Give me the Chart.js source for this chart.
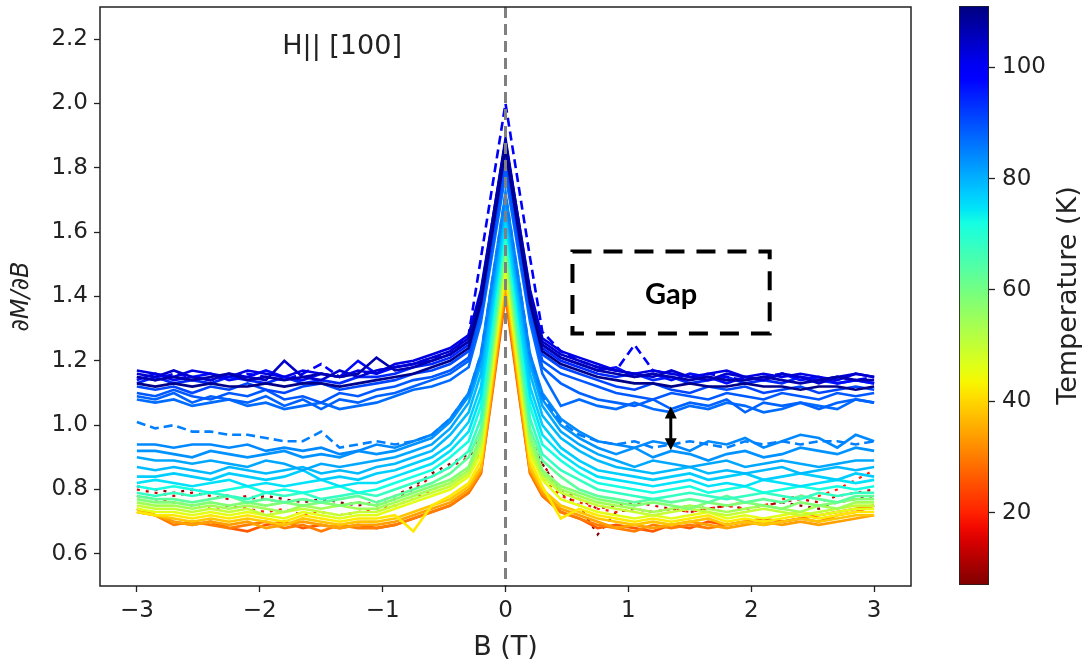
<!DOCTYPE html>
<html>
<head>
<meta charset="utf-8">
<script src="https://cdn.jsdelivr.net/npm/chart.js@4.4.1/dist/chart.umd.min.js"></script>
<style>
  html, body { margin: 0; padding: 0; background: #fff; }
  #wrap { position: relative; width: 1091px; height: 664px; }
  #main { position: absolute; left: 0; top: 0; }
  #cbar { position: absolute; left: 935px; top: 0; }
</style>
</head>
<body>
<div id="wrap">
  <canvas id="main" width="935" height="664"></canvas>
  <canvas id="cbar" width="156" height="664"></canvas>
</div>
<script>
// field grid (T), shared by every curve
const fieldB = [-3.0,-2.85,-2.7,-2.55,-2.4,-2.25,-2.1,-1.95,-1.8,-1.65,-1.5,-1.35,-1.2,-1.05,-0.9,-0.75,-0.6,
  -0.45,-0.3,-0.2,-0.1,0,0.1,0.2,0.3,0.45,
  0.6,0.75,0.9,1.05,1.2,1.35,1.5,1.65,1.8,1.95,2.1,2.25,2.4,2.55,2.7,2.85,3.0];

// dM/dB curves, one per temperature (K)
const dmdb110K = [1.13,1.12,1.13,1.12,1.13,1.12,1.12,1.13,1.12,1.13,1.13,1.12,1.13,1.14,1.15,1.16,1.18, 1.20,1.24,1.38,1.62,1.86,1.62,1.38,1.23,1.19, 1.17,1.15,1.14,1.13,1.13,1.12,1.13,1.12,1.12,1.13,1.12,1.12,1.11,1.12,1.12,1.11,1.12];
const dmdb107K = [1.15,1.14,1.15,1.14,1.15,1.16,1.14,1.15,1.14,1.15,1.16,1.15,1.16,1.21,1.17,1.18,1.20, 1.22,1.26,1.40,1.64,1.88,1.64,1.40,1.25,1.21, 1.19,1.17,1.16,1.15,1.16,1.15,1.14,1.15,1.14,1.14,1.15,1.14,1.13,1.14,1.15,1.14,1.14];
const dmdb104K = [1.16,1.15,1.17,1.15,1.14,1.16,1.15,1.14,1.20,1.15,1.14,1.17,1.15,1.17,1.18,1.19,1.21, 1.23,1.27,1.41,1.65,1.89,1.65,1.41,1.26,1.22, 1.20,1.18,1.17,1.16,1.15,1.17,1.15,1.14,1.16,1.15,1.14,1.16,1.15,1.13,1.15,1.16,1.15];
const dmdb102K = [1.17,1.16,1.15,1.17,1.16,1.15,1.17,1.16,1.15,1.17,1.16,1.15,1.17,1.16,1.19,1.20,1.22, 1.24,1.28,1.42,1.65,1.88,1.65,1.42,1.27,1.23, 1.21,1.19,1.17,1.16,1.17,1.16,1.15,1.16,1.17,1.15,1.16,1.15,1.16,1.15,1.14,1.16,1.15];
const dmdb100K = [1.15,1.14,1.16,1.15,1.14,1.15,1.16,1.15,1.14,1.16,1.19,1.15,1.16,1.17,1.18,1.19,1.21, 1.22,1.28,1.52,1.76,2.00,1.76,1.52,1.29,1.23, 1.20,1.18,1.17,1.25,1.17,1.16,1.15,1.16,1.15,1.14,1.15,1.16,1.15,1.14,1.15,1.14,1.15];
const dmdb97K  = [1.14,1.16,1.14,1.15,1.16,1.14,1.15,1.17,1.15,1.14,1.16,1.15,1.20,1.16,1.18,1.19,1.20, 1.22,1.26,1.40,1.63,1.87,1.63,1.40,1.25,1.21, 1.19,1.17,1.18,1.15,1.16,1.14,1.16,1.15,1.13,1.15,1.14,1.16,1.14,1.15,1.13,1.14,1.13];
const dmdb94K  = [1.13,1.15,1.13,1.14,1.13,1.15,1.14,1.13,1.15,1.13,1.14,1.13,1.15,1.15,1.16,1.18,1.19, 1.21,1.25,1.39,1.62,1.86,1.62,1.39,1.24,1.20, 1.18,1.16,1.15,1.16,1.14,1.15,1.13,1.14,1.15,1.13,1.14,1.13,1.15,1.14,1.13,1.14,1.13];
const dmdb91K  = [1.12,1.11,1.12,1.10,1.12,1.11,1.13,1.11,1.10,1.12,1.13,1.11,1.12,1.13,1.14,1.16,1.17, 1.19,1.23,1.37,1.60,1.84,1.60,1.37,1.22,1.18, 1.16,1.14,1.12,1.11,1.13,1.11,1.10,1.12,1.11,1.12,1.10,1.11,1.12,1.10,1.11,1.12,1.11];
const dmdb89K  = [1.10,1.09,1.11,1.09,1.08,1.10,1.09,1.11,1.08,1.09,1.07,1.10,1.09,1.11,1.12,1.14,1.15, 1.17,1.21,1.35,1.58,1.82,1.58,1.35,1.20,1.16, 1.14,1.12,1.10,1.09,1.08,1.10,1.09,1.08,1.10,1.09,1.08,1.10,1.09,1.08,1.10,1.09,1.10];
const dmdb88K  = [1.09,1.08,1.10,1.07,1.09,1.08,1.07,1.09,1.06,1.08,1.05,1.08,1.07,1.09,1.10,1.12,1.14, 1.16,1.20,1.34,1.57,1.80,1.57,1.34,1.18,1.13, 1.10,1.08,1.07,1.06,1.08,1.05,1.07,1.06,1.08,1.04,1.07,1.06,1.07,1.05,1.07,1.08,1.07];
const dmdb87K  = [1.08,1.07,1.08,1.06,1.07,1.08,1.06,1.07,1.05,1.06,1.07,1.05,1.06,1.07,1.09,1.11,1.12, 1.14,1.18,1.32,1.55,1.78,1.55,1.32,1.16,1.06, 1.08,1.06,1.05,1.07,1.05,1.04,1.06,1.05,1.07,1.06,1.04,1.05,1.07,1.06,1.05,1.08,1.07];
const dmdb85K  = [1.01,0.99,1.00,0.98,0.98,0.97,0.97,0.96,0.95,0.95,0.98,0.93,0.94,0.95,0.94,0.95,0.97, 1.02,1.10,1.22,1.47,1.72,1.47,1.22,1.09,1.01, 0.97,0.95,0.94,0.95,0.93,0.94,0.95,0.94,0.93,0.95,0.94,0.95,0.94,0.95,0.95,0.94,0.95];
const dmdb84K  = [0.94,0.94,0.93,0.94,0.94,0.93,0.94,0.92,0.93,0.92,0.93,0.91,0.92,0.94,0.93,0.95,0.97, 1.02,1.10,1.22,1.47,1.72,1.47,1.22,1.10,1.02, 0.98,0.95,0.94,0.93,0.95,0.94,0.92,0.95,0.94,0.96,0.93,0.95,0.97,0.96,0.93,0.97,0.95];
const dmdb83K  = [0.92,0.92,0.91,0.90,0.92,0.91,0.90,0.91,0.92,0.90,0.91,0.90,0.92,0.91,0.92,0.94,0.96, 1.01,1.09,1.21,1.46,1.71,1.46,1.21,1.08,1.00, 0.96,0.93,0.91,0.93,0.90,0.92,0.91,0.89,0.91,0.92,0.90,0.91,0.93,0.92,0.91,0.93,0.92];
const dmdb81K  = [0.90,0.89,0.89,0.88,0.89,0.88,0.87,0.89,0.88,0.86,0.88,0.87,0.88,0.89,0.90,0.92,0.94, 0.99,1.07,1.19,1.44,1.70,1.44,1.19,1.06,0.98, 0.94,0.91,0.89,0.87,0.89,0.88,0.87,0.88,0.89,0.87,0.88,0.89,0.88,0.87,0.88,0.89,0.89];
const dmdb79K  = [0.87,0.86,0.87,0.86,0.85,0.87,0.86,0.85,0.86,0.87,0.85,0.86,0.85,0.87,0.88,0.90,0.92, 0.97,1.04,1.16,1.42,1.68,1.42,1.16,1.03,0.96, 0.92,0.89,0.87,0.86,0.85,0.86,0.87,0.85,0.86,0.85,0.86,0.87,0.85,0.86,0.87,0.86,0.87];
const dmdb77K  = [0.84,0.84,0.85,0.84,0.83,0.85,0.84,0.83,0.84,0.86,0.83,0.84,0.83,0.85,0.86,0.88,0.90, 0.94,1.01,1.12,1.40,1.66,1.40,1.12,1.00,0.93, 0.89,0.86,0.85,0.84,0.83,0.84,0.85,0.83,0.84,0.85,0.83,0.84,0.85,0.84,0.83,0.85,0.84];
const dmdb75K  = [0.82,0.83,0.82,0.81,0.82,0.83,0.81,0.82,0.81,0.82,0.83,0.81,0.82,0.82,0.84,0.86,0.88, 0.92,0.98,1.09,1.37,1.64,1.37,1.09,0.97,0.91, 0.87,0.84,0.83,0.82,0.81,0.82,0.83,0.81,0.82,0.81,0.83,0.82,0.81,0.82,0.83,0.82,0.83];
const dmdb72K  = [0.81,0.80,0.81,0.80,0.79,0.80,0.81,0.79,0.80,0.79,0.80,0.81,0.79,0.80,0.82,0.84,0.86, 0.90,0.95,1.06,1.34,1.62,1.34,1.06,0.94,0.89, 0.85,0.82,0.81,0.80,0.79,0.80,0.81,0.79,0.80,0.81,0.79,0.80,0.81,0.80,0.81,0.80,0.81];
const dmdb68K  = [0.79,0.78,0.79,0.78,0.79,0.78,0.77,0.79,0.78,0.79,0.77,0.78,0.79,0.78,0.80,0.82,0.84, 0.87,0.92,1.02,1.31,1.60,1.31,1.02,0.91,0.86, 0.83,0.80,0.79,0.78,0.77,0.78,0.79,0.78,0.77,0.78,0.79,0.78,0.77,0.79,0.78,0.79,0.79];
const dmdb63K  = [0.78,0.77,0.77,0.76,0.77,0.78,0.76,0.77,0.76,0.77,0.76,0.77,0.78,0.76,0.78,0.80,0.82, 0.85,0.90,0.99,1.28,1.58,1.28,0.99,0.89,0.84, 0.80,0.78,0.77,0.76,0.77,0.76,0.77,0.76,0.78,0.76,0.77,0.76,0.78,0.77,0.76,0.78,0.78];
const dmdb58K  = [0.77,0.76,0.76,0.75,0.76,0.75,0.76,0.75,0.76,0.75,0.76,0.75,0.76,0.75,0.77,0.79,0.81, 0.83,0.87,0.97,1.26,1.56,1.26,0.97,0.86,0.81, 0.79,0.77,0.76,0.75,0.76,0.75,0.74,0.76,0.75,0.76,0.75,0.74,0.76,0.75,0.76,0.77,0.77];
const dmdb54K  = [0.76,0.75,0.75,0.74,0.75,0.74,0.75,0.74,0.73,0.75,0.74,0.75,0.74,0.74,0.76,0.78,0.80, 0.82,0.86,0.95,1.24,1.54,1.24,0.95,0.85,0.80, 0.78,0.76,0.75,0.74,0.73,0.74,0.75,0.74,0.73,0.74,0.75,0.74,0.73,0.75,0.74,0.76,0.76];
const dmdb50K  = [0.75,0.74,0.74,0.73,0.74,0.73,0.74,0.72,0.73,0.74,0.73,0.72,0.73,0.73,0.75,0.77,0.79, 0.81,0.85,0.93,1.22,1.52,1.22,0.93,0.84,0.79, 0.77,0.75,0.74,0.73,0.72,0.73,0.74,0.73,0.72,0.73,0.74,0.73,0.72,0.73,0.74,0.75,0.75];
const dmdb46K  = [0.74,0.73,0.73,0.72,0.73,0.72,0.73,0.72,0.71,0.73,0.72,0.71,0.72,0.72,0.74,0.76,0.78, 0.80,0.84,0.91,1.20,1.50,1.20,0.91,0.83,0.77, 0.75,0.73,0.72,0.71,0.72,0.71,0.72,0.73,0.71,0.72,0.71,0.72,0.73,0.72,0.73,0.74,0.74];
const dmdb42K  = [0.73,0.72,0.72,0.71,0.72,0.71,0.72,0.71,0.70,0.72,0.71,0.70,0.71,0.71,0.72,0.67,0.75, 0.78,0.82,0.89,1.18,1.48,1.18,0.89,0.81,0.71, 0.74,0.72,0.71,0.70,0.71,0.70,0.71,0.72,0.70,0.71,0.70,0.71,0.72,0.71,0.72,0.73,0.73];
const dmdb38K  = [0.73,0.72,0.71,0.70,0.71,0.70,0.71,0.70,0.69,0.71,0.70,0.69,0.70,0.70,0.71,0.73,0.75, 0.77,0.81,0.87,1.16,1.46,1.16,0.87,0.80,0.75, 0.73,0.71,0.70,0.69,0.70,0.69,0.70,0.71,0.69,0.70,0.69,0.70,0.71,0.70,0.71,0.72,0.72];
const dmdb34K  = [0.74,0.72,0.70,0.69,0.70,0.69,0.70,0.68,0.69,0.70,0.69,0.68,0.69,0.69,0.70,0.72,0.74, 0.76,0.80,0.86,1.14,1.44,1.14,0.86,0.79,0.74, 0.72,0.70,0.68,0.69,0.68,0.69,0.70,0.69,0.68,0.69,0.70,0.69,0.70,0.69,0.70,0.71,0.72];
const dmdb30K  = [0.74,0.72,0.69,0.70,0.69,0.68,0.69,0.70,0.68,0.69,0.67,0.69,0.68,0.68,0.69,0.71,0.73, 0.75,0.79,0.85,1.13,1.42,1.13,0.85,0.78,0.73, 0.71,0.69,0.68,0.67,0.69,0.68,0.69,0.68,0.69,0.70,0.69,0.70,0.71,0.70,0.72,0.73,0.75];
const dmdb26K  = [0.73,0.72,0.70,0.69,0.70,0.68,0.67,0.69,0.70,0.68,0.69,0.68,0.69,0.68,0.69,0.71,0.73, 0.75,0.79,0.85,1.12,1.40,1.12,0.85,0.78,0.73, 0.71,0.68,0.69,0.68,0.67,0.69,0.68,0.70,0.69,0.70,0.71,0.70,0.71,0.72,0.73,0.74,0.75];
const dmdb20K  = [0.78,0.77,0.76,0.75,0.74,0.75,0.74,0.73,0.74,0.72,0.73,0.72,0.73,0.74,0.75,0.77,0.80, 0.82,0.86,0.92,1.16,1.40,1.16,0.92,0.84,0.78, 0.76,0.74,0.73,0.74,0.73,0.74,0.73,0.74,0.75,0.74,0.75,0.77,0.78,0.78,0.80,0.83,0.86];
const dmdb14K  = [0.80,0.79,0.78,0.79,0.78,0.77,0.78,0.77,0.76,0.77,0.76,0.75,0.76,0.75,0.77,0.80,0.84, 0.87,0.90,0.95,1.17,1.40,1.17,0.95,0.88,0.80, 0.77,0.74,0.75,0.76,0.75,0.74,0.73,0.74,0.75,0.76,0.75,0.76,0.77,0.76,0.78,0.79,0.80];
const dmdb8K   = [0.81,0.80,0.79,0.80,0.79,0.78,0.77,0.78,0.77,0.76,0.77,0.76,0.75,0.76,0.78,0.81,0.85, 0.88,0.91,0.96,1.18,1.40,1.18,0.96,0.88,0.79, 0.75,0.66,0.73,0.74,0.73,0.74,0.75,0.74,0.75,0.74,0.75,0.76,0.75,0.74,0.76,0.77,0.78];

const temps = [110,107,104,102,100,97,94,91,89,88,87,85,84,83,81,79,77,75,72,68,63,58,54,50,46,42,38,34,30,26,20,14,8];
const curves = [dmdb110K,dmdb107K,dmdb104K,dmdb102K,dmdb100K,dmdb97K,dmdb94K,dmdb91K,dmdb89K,dmdb88K,dmdb87K,
  dmdb85K,dmdb84K,dmdb83K,dmdb81K,dmdb79K,dmdb77K,dmdb75K,dmdb72K,dmdb68K,dmdb63K,dmdb58K,dmdb54K,
  dmdb50K,dmdb46K,dmdb42K,dmdb38K,dmdb34K,dmdb30K,dmdb26K,dmdb20K,dmdb14K,dmdb8K];
const dashedTemps = [100, 85];
const dottedTemps = [20, 14, 8];

const xTicks = [-3, -2, -1, 0, 1, 2, 3];
const yTicks = [0.6, 0.8, 1.0, 1.2, 1.4, 1.6, 1.8, 2.0, 2.2];
const tempTicks = [20, 40, 60, 80, 100];
const tempMin = 7, tempMax = 111;

const gapBox = { x0: 0.545, x1: 2.15, y0: 1.285, y1: 1.54, label: "Gap" };
const gapArrow = { x: 1.345, top: 1.058, bottom: 0.922 };
const fieldLabel = { x: -1.33, y: 2.175, text: "H|| [100]" };

// matplotlib jet colormap
const jetR = [[0,0],[0.35,0],[0.66,1],[0.89,1],[1,0.5]];
const jetG = [[0,0],[0.125,0],[0.375,1],[0.64,1],[0.91,0],[1,0]];
const jetB = [[0,0.5],[0.11,1],[0.34,1],[0.65,0],[1,0]];
function seg(pts, v) {
  for (let i = 1; i < pts.length; i++) {
    if (v <= pts[i][0]) {
      const [a, fa] = pts[i - 1], [b, fb] = pts[i];
      return fa + (fb - fa) * (v - a) / (b - a);
    }
  }
  return pts[pts.length - 1][1];
}
function jet(v) {
  v = Math.min(1, Math.max(0, v));
  const c = [jetR, jetG, jetB].map((p) => Math.round(255 * seg(p, v)));
  return `rgb(${c[0]},${c[1]},${c[2]})`;
}
function tempColor(t) {
  return jet(1 - (t - tempMin) / (tempMax - tempMin));
}

const FONT = "'DejaVu Sans', sans-serif";
const INK = "#222";

const datasets = curves.map((vals, i) => {
  const t = temps[i];
  let dash = [];
  if (dashedTemps.includes(t)) dash = [9, 5];
  if (dottedTemps.includes(t)) dash = [3, 6];
  return {
    label: t + " K",
    data: vals.map((y, j) => ({ x: fieldB[j], y })),
    borderColor: tempColor(t),
    borderWidth: dottedTemps.includes(t) ? 2.2 : 2.6,
    borderDash: dash,
    pointRadius: 0,
    tension: 0,
    fill: false,
  };
});

const overlay = {
  id: "overlay",
  afterDatasetsDraw(chart) {
    const { ctx, chartArea: a, scales: { x, y } } = chart;
    ctx.save();
    // zero-field marker
    const x0 = x.getPixelForValue(0);
    ctx.strokeStyle = "#808080";
    ctx.lineWidth = 3;
    ctx.setLineDash([11, 6]);
    ctx.beginPath();
    ctx.moveTo(x0, a.top);
    ctx.lineTo(x0, a.bottom);
    ctx.stroke();

    // gap box
    ctx.strokeStyle = "#000";
    ctx.lineWidth = 4;
    ctx.setLineDash([19, 12]);
    const bx0 = x.getPixelForValue(gapBox.x0), bx1 = x.getPixelForValue(gapBox.x1);
    const by0 = y.getPixelForValue(gapBox.y1), by1 = y.getPixelForValue(gapBox.y0);
    ctx.strokeRect(bx0, by0, bx1 - bx0, by1 - by0);
    ctx.setLineDash([]);
    ctx.fillStyle = "#000";
    ctx.font = "bold 29px Lato, 'Open Sans', sans-serif";
    ctx.textAlign = "center";
    ctx.textBaseline = "middle";
    ctx.fillText(gapBox.label, (bx0 + bx1) / 2, (by0 + by1) / 2 + 2);

    // double arrow
    const ax = x.getPixelForValue(gapArrow.x);
    const ay0 = y.getPixelForValue(gapArrow.top), ay1 = y.getPixelForValue(gapArrow.bottom);
    const hl = 12, hw = 6;
    ctx.lineWidth = 3;
    ctx.beginPath();
    ctx.moveTo(ax, ay0 + hl - 2);
    ctx.lineTo(ax, ay1 - hl + 2);
    ctx.stroke();
    ctx.beginPath();
    ctx.moveTo(ax, ay0); ctx.lineTo(ax - hw, ay0 + hl); ctx.lineTo(ax + hw, ay0 + hl); ctx.closePath();
    ctx.moveTo(ax, ay1); ctx.lineTo(ax - hw, ay1 - hl); ctx.lineTo(ax + hw, ay1 - hl); ctx.closePath();
    ctx.fill();

    // orientation label
    ctx.font = "27px " + FONT;
    ctx.fillStyle = INK;
    ctx.fillText(fieldLabel.text, x.getPixelForValue(fieldLabel.x), y.getPixelForValue(fieldLabel.y));

    // frame
    ctx.strokeStyle = INK;
    ctx.lineWidth = 1.5;
    ctx.strokeRect(a.left, a.top, a.right - a.left, a.bottom - a.top);
    ctx.restore();
  },
};

function noEdgePadding(s) {
  s.paddingTop = 0; s.paddingBottom = 0; s.paddingLeft = 0; s.paddingRight = 0;
}

new Chart(document.getElementById("main"), {
  type: "line",
  data: { datasets },
  options: {
    responsive: false,
    animation: false,
    layout: { padding: { top: 7, right: 24, left: 0, bottom: 0 } },
    plugins: { legend: { display: false }, tooltip: { enabled: false } },
    scales: {
      x: {
        type: "linear",
        min: -3.3,
        max: 3.3,
        afterBuildTicks: (s) => { s.ticks = xTicks.map((v) => ({ value: v })); },
        afterFit: (s) => { s.height = 78; noEdgePadding(s); },
        grid: { drawOnChartArea: false, drawTicks: true, tickLength: 6, tickWidth: 1.3, tickColor: INK },
        border: { display: false },
        ticks: {
          color: INK,
          padding: 5,
          font: { family: FONT, size: 23 },
          callback: (v) => String(v).replace("-", "\u2212"),
        },
        title: {
          display: true,
          text: "B (T)",
          color: INK,
          font: { family: FONT, size: 27 },
          padding: { top: 0, bottom: 0 },
        },
      },
      y: {
        type: "linear",
        min: 0.5,
        max: 2.3,
        afterBuildTicks: (s) => { s.ticks = yTicks.map((v) => ({ value: v })); },
        afterFit: (s) => { s.width = 100; noEdgePadding(s); },
        grid: { drawOnChartArea: false, drawTicks: true, tickLength: 6, tickWidth: 1.3, tickColor: INK },
        border: { display: false },
        ticks: {
          color: INK,
          padding: 6,
          font: { family: FONT, size: 23 },
          callback: (v) => v.toFixed(1),
        },
        title: {
          display: true,
          text: "\u2202M/\u2202B",
          color: INK,
          font: { family: FONT, size: 24, style: "italic" },
          padding: { top: 7, bottom: 0 },
        },
      },
    },
  },
  plugins: [overlay],
});

// colorbar
const cbarTitle = {
  id: "cbarTitle",
  afterDraw(chart) {
    const { ctx, chartArea: a } = chart;
    ctx.save();
    ctx.translate(a.right + 80, (a.top + a.bottom) / 2);
    ctx.rotate(-Math.PI / 2);
    ctx.font = "27px " + FONT;
    ctx.fillStyle = INK;
    ctx.textAlign = "center";
    ctx.textBaseline = "middle";
    ctx.fillText("Temperature (K)", 0, 0);
    ctx.restore();
  },
};

new Chart(document.getElementById("cbar"), {
  type: "bar",
  data: {
    labels: ["T"],
    datasets: [{
      data: [[tempMin, tempMax]],
      backgroundColor: (c) => {
        const { ctx, chartArea } = c.chart;
        if (!chartArea) return "#00f";
        const g = ctx.createLinearGradient(0, chartArea.bottom, 0, chartArea.top);
        for (let k = 0; k <= 40; k++) g.addColorStop(k / 40, jet(1 - k / 40));
        return g;
      },
      borderColor: INK,
      borderWidth: 1.2,
      borderSkipped: false,
      barPercentage: 1,
      categoryPercentage: 1,
    }],
  },
  options: {
    responsive: false,
    animation: false,
    layout: { padding: { left: 24, top: 6, bottom: 79, right: 42 } },
    plugins: { legend: { display: false }, tooltip: { enabled: false } },
    scales: {
      x: { display: false },
      y: {
        position: "right",
        min: tempMin,
        max: tempMax,
        afterBuildTicks: (s) => { s.ticks = tempTicks.map((v) => ({ value: v })); },
        afterFit: (s) => { s.width = 60; noEdgePadding(s); },
        grid: { drawOnChartArea: false, drawTicks: true, tickLength: 6, tickWidth: 1.3, tickColor: INK },
        border: { display: false },
        ticks: { color: INK, padding: 7, font: { family: FONT, size: 23 } },
      },
    },
  },
  plugins: [cbarTitle],
});
</script>
</body>
</html>
